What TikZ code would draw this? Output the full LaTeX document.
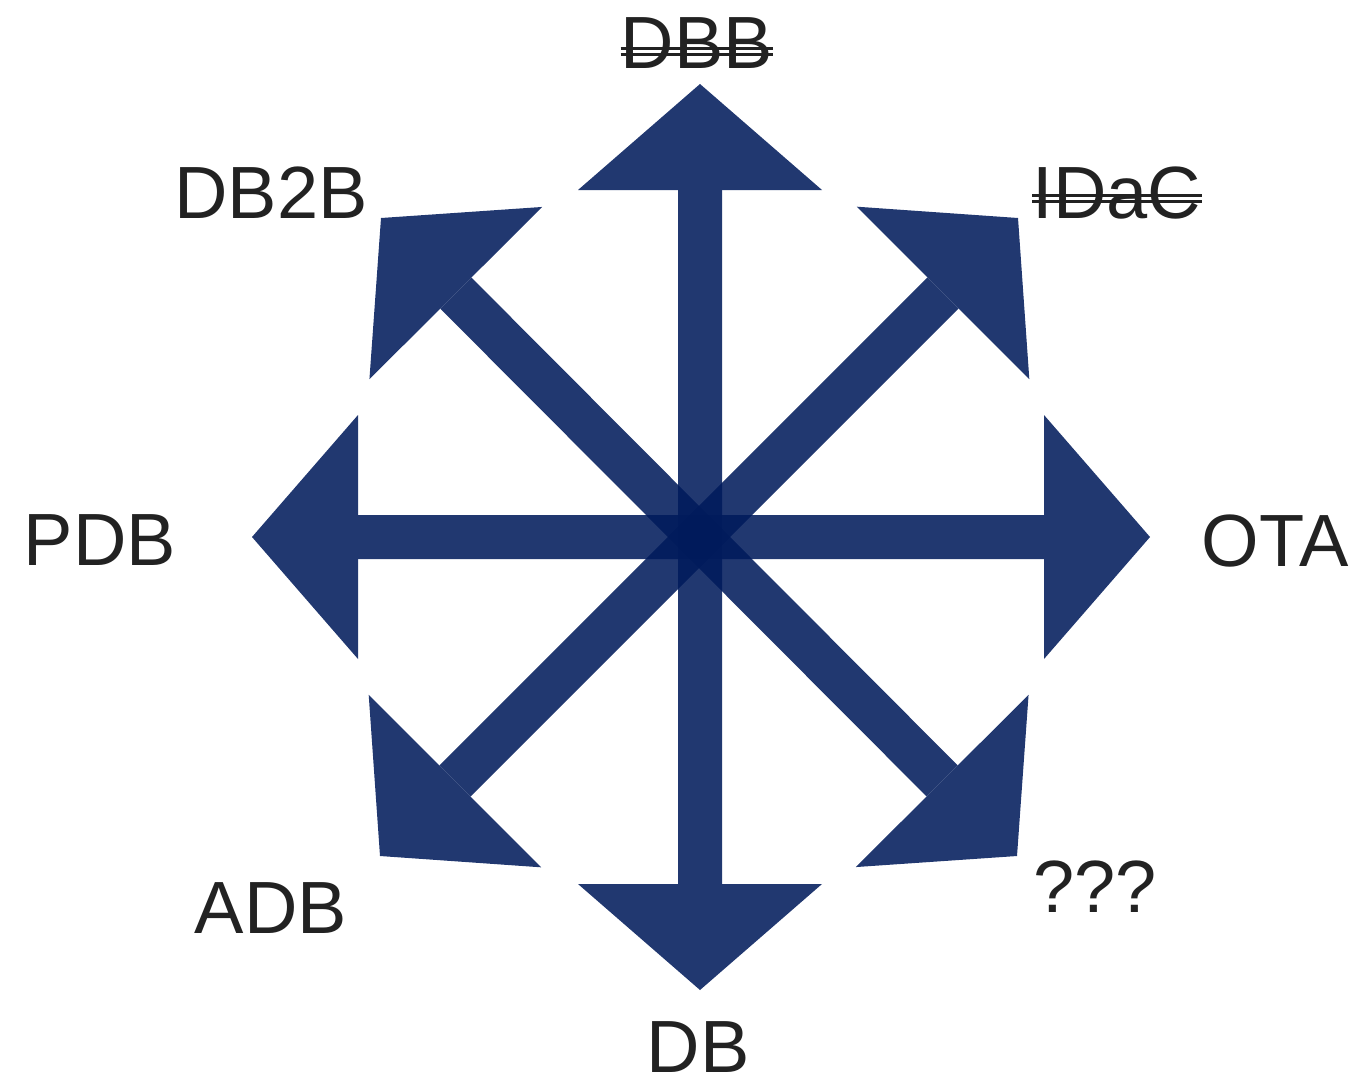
\documentclass[tikz,border=0pt]{standalone}
\usepackage{fontspec}
\setmainfont{Liberation Sans}
\usetikzlibrary{arrows.meta}
\definecolor{barBlue}{RGB}{0,26,91}
\definecolor{textGray}{RGB}{34,34,34}

\begin{document}
\begin{tikzpicture}[x=0.5pt,y=-0.5pt,
    lbl/.style={text=textGray,font=\fontsize{37}{44}\selectfont,inner sep=0pt,anchor=base},
    bar/.style={line width=22pt,draw=barBlue,>={Triangle[length=53pt,width=122pt,line width=0pt]},<->},
    strike/.style={draw=textGray,line width=1.5pt}
  ]
    \useasboundingbox (0,0) rectangle (1359,1088);
    % arrow tips around the hub
    \coordinate (hub) at (700,537);
    \coordinate (tipN) at (700,84);
    \coordinate (tipS) at (700,990);
    \coordinate (tipW) at (252,537);
    \coordinate (tipE) at (1150,537);
    \coordinate (tipNW) at (381,218);
    \coordinate (tipNE) at (1018,218);
    \coordinate (tipSW) at (380,856);
    \coordinate (tipSE) at (1017,856);
    % the four bars
    \begin{scope}[transparency group,opacity=0.87]
      \draw[bar] (tipN) -- (tipS);
    \end{scope}
    \begin{scope}[transparency group,opacity=0.87]
      \draw[bar] (tipW) -- (tipE);
    \end{scope}
    \begin{scope}[transparency group,opacity=0.87]
      \draw[bar] (tipNW) -- (tipSE);
    \end{scope}
    \begin{scope}[transparency group,opacity=0.87]
      \draw[bar] (tipNE) -- (tipSW);
    \end{scope}
    % labels
    \node[lbl] (dbb) at (697,68) {DBB};
    \node[lbl] (idac) at (1117,218) {IDaC};
    \node[lbl] (db2b) at (271,218) {DB2B};
    \node[lbl] (pdb) at (100,565) {PDB};
    \node[lbl] (ota) at (1275,566) {OTA};
    \node[lbl] (adb) at (271,933) {ADB};
    \node[lbl] (db) at (698,1072) {DB};
    \node[lbl] (qqq) at (1095,912) {???};
    % crossed-out names
    \draw[strike] ([yshift=9.8pt]dbb.base west) -- ([yshift=9.8pt]dbb.base east);
    \draw[strike] ([yshift=6.8pt]dbb.base west) -- ([yshift=6.8pt]dbb.base east);
    \draw[strike] ([yshift=11.5pt]idac.base west) -- ([yshift=11.5pt]idac.base east);
    \draw[strike] ([yshift=8.2pt]idac.base west) -- ([yshift=8.2pt]idac.base east);
\end{tikzpicture}
\end{document}
